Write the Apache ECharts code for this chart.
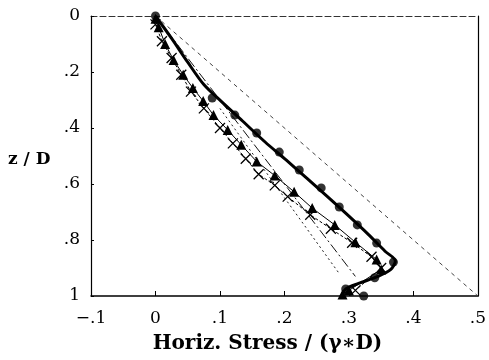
<!DOCTYPE html>
<html>
<head>
<meta charset="utf-8">
<script src="https://cdn.jsdelivr.net/npm/echarts@6/dist/echarts.min.js"></script>
<style>html,body{margin:0;padding:0;background:#fff;}#c{width:489px;height:360px;}</style>
</head>
<body>
<div id="c"></div>
<script>
// Reference straight line (dashed)
const refLine = [[0, 0], [0.5, 1]];
// Thin dash-dot line
const dashDotLine = [[0, 0], [0.31, 0.93]];
// Thin dotted line
const dottedLine = [[0.1, 0.33], [0.285, 0.92]];
// Thick solid curve
const thickCurve = [[0,0],[0.025,0.08],[0.05,0.165],[0.075,0.245],[0.102,0.305],[0.135,0.375],[0.17,0.45],[0.203,0.515],[0.235,0.58],[0.268,0.648],[0.3,0.715],[0.33,0.78],[0.356,0.84],[0.372,0.875],[0.365,0.905],[0.345,0.93],[0.315,0.955],[0.295,0.975],[0.29,0.995]];
// Circle markers
const circlePts = [[0,0],[0.088,0.293],[0.123,0.354],[0.157,0.418],[0.192,0.486],[0.223,0.55],[0.257,0.614],[0.285,0.682],[0.313,0.746],[0.343,0.811],[0.369,0.879],[0.34,0.935],[0.295,0.975],[0.323,1.0]];
// Triangle markers
const trianglePts = [[0,0.01],[0.005,0.04],[0.015,0.1],[0.028,0.157],[0.043,0.21],[0.058,0.257],[0.074,0.304],[0.09,0.354],[0.112,0.407],[0.133,0.46],[0.157,0.52],[0.185,0.57],[0.215,0.628],[0.243,0.686],[0.278,0.746],[0.31,0.808],[0.343,0.87],[0.35,0.905],[0.3,0.98],[0.29,0.995]];
// Cross markers
const crossPts = [[0,0.03],[0.01,0.09],[0.025,0.15],[0.04,0.21],[0.055,0.27],[0.075,0.33],[0.1,0.4],[0.12,0.455],[0.14,0.51],[0.16,0.565],[0.185,0.605],[0.205,0.645],[0.24,0.71],[0.272,0.76],[0.305,0.81],[0.335,0.86],[0.35,0.9],[0.31,0.98]];
// Tick labels
const xTicks = {"-0.1": "\u2212.1", "0": "0", "0.1": ".1", "0.2": ".2", "0.3": ".3", "0.4": ".4", "0.5": ".5"};
const yTicks = {"0": "0", "0.2": ".2", "0.4": ".4", "0.6": ".6", "0.8": ".8", "1": "1"};
const xName = "Horiz. Stress / (\u03B3\u2217D)";
const yName = "z / D";

const font = "'DejaVu Serif', 'Liberation Serif', serif";
function fmt(map){ return v => { const k = String(Math.round(v*10)/10); return map[k] !== undefined ? map[k] : ''; }; }

const chart = echarts.init(document.getElementById('c'), null, {renderer: 'canvas'});
chart.setOption({
  animation: false,
  backgroundColor: '#fff',
  grid: {left: 91, right: 8, top: 16, bottom: 64},
  xAxis: [{
    type: 'value', min: -0.1, max: 0.5, interval: 0.1, position: 'bottom',
    axisLine: {show: true, onZero: false, lineStyle: {color: '#000', width: 1.5}},
    axisTick: {show: true, inside: true, length: 5, lineStyle: {color: '#000'}},
    splitLine: {show: false},
    axisLabel: {formatter: fmt(xTicks), color: '#000', fontFamily: font, fontSize: 17, margin: 14},
    name: xName, nameLocation: 'middle', nameGap: 38,
    nameTextStyle: {color: '#000', fontFamily: font, fontSize: 20, fontWeight: 'bold', padding: [0, 34, 0, 0]}
  }, {
    type: 'value', min: -0.1, max: 0.5, interval: 0.1, position: 'top',
    axisLine: {show: true, onZero: false, lineStyle: {color: '#333', width: 1, type: [6, 3]}},
    axisTick: {show: false}, axisLabel: {show: false}, splitLine: {show: false}
  }],
  yAxis: [{
    type: 'value', min: 0, max: 1, interval: 0.2, inverse: true, position: 'left',
    axisLine: {show: true, onZero: false, lineStyle: {color: '#000', width: 1.2}},
    axisTick: {show: true, inside: true, length: 3, lineStyle: {color: '#000'}},
    splitLine: {show: false},
    axisLabel: {formatter: fmt(yTicks), color: '#000', fontFamily: font, fontSize: 17, margin: 11}
  }, {
    type: 'value', min: 0, max: 1, interval: 0.2, inverse: true, position: 'right',
    axisLine: {show: true, onZero: false, lineStyle: {color: '#000', width: 1.2}},
    axisTick: {show: false}, axisLabel: {show: false}, splitLine: {show: false}
  }],
  graphic: [{
    type: 'text', left: 8, top: 151,
    style: {text: yName, fill: '#000', font: 'bold 17px ' + font}
  }],
  series: [
    {type: 'line', data: refLine, symbol: 'none', lineStyle: {color: '#444', width: 1, type: [4, 4]}},
    {type: 'line', data: dashDotLine, symbol: 'none', lineStyle: {color: '#111', width: 1, type: [10, 3, 2, 3]}},
    {type: 'line', data: dottedLine, symbol: 'none', lineStyle: {color: '#222', width: 1, type: [2, 3]}},
    {type: 'line', data: crossPts, symbol: 'path://M0,0L10,10M10,0L0,10', symbolSize: 10,
      itemStyle: {color: '#000', borderColor: '#000', borderWidth: 1.3},
      lineStyle: {color: '#000', width: 1, type: [3, 2]}},
    {type: 'line', data: trianglePts, symbol: 'triangle', symbolSize: 10,
      itemStyle: {color: '#000'}, lineStyle: {color: '#000', width: 1}},
    {type: 'line', data: thickCurve, symbol: 'none', smooth: 0.3,
      lineStyle: {color: '#000', width: 3}},
    {type: 'scatter', data: circlePts, symbol: 'circle', symbolSize: 9, itemStyle: {color: '#000'}}
  ]
});
</script>
</body>
</html>
